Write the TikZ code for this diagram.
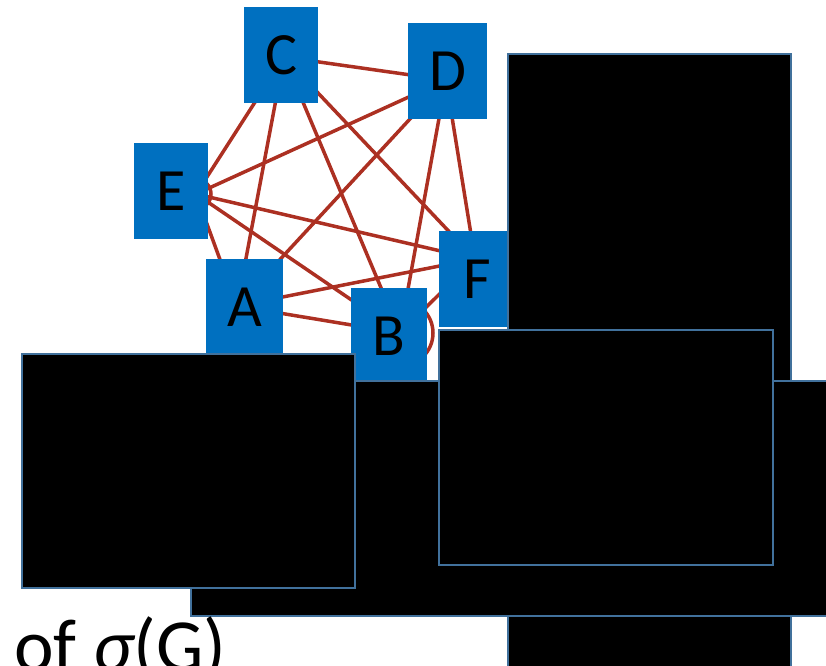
\documentclass[tikz,border=0pt]{standalone}
\usepackage{fontspec}
\setmainfont{Carlito}
\definecolor{nodeblue}{HTML}{0070C0}
\definecolor{edgered}{RGB}{172,48,34}
\definecolor{rimblue}{HTML}{41719C}
\begin{document}
\begin{tikzpicture}[x=1pt,y=-1pt,
  vbox/.style={fill=nodeblue, inner sep=0pt, minimum height=96pt, text=black,
    font=\fontsize{60}{60}\selectfont},
  gedge/.style={draw=edgered, line width=3.5pt},
  vring/.style={draw=edgered, line width=3.5pt},
  panel/.style={fill=black, draw=rimblue, line width=2.2pt}]
\useasboundingbox (0,0) rectangle (826,665);
\clip (0,0) rectangle (826,665);
% graph vertices (under the blue labels)
\coordinate (vC) at (284,57);
\coordinate (vD) at (446,80);
\coordinate (vE) at (196,194);
\coordinate (vF) at (475,259);
\coordinate (vA) at (237,306);
\coordinate (vB) at (400,333);
% complete graph K6
\foreach \p/\q in {vC/vD,vC/vE,vC/vA,vC/vB,vC/vF,vD/vE,vD/vA,vD/vB,vD/vF,vE/vF,vE/vB,vE/vA,vA/vF,vA/vB,vB/vF}
  \draw[gedge] (\p) -- (\q);
\draw[vring] (vE) circle[radius=15pt];
\draw[vring] (vB) circle[radius=33pt];
% labelled squares
\node[vbox, minimum width=74pt] (C) at (281,55) {C};
\node[vbox, minimum width=79pt] (D) at (447.5,71) {D};
\node[vbox, minimum width=74pt] (E) at (171,191) {E};
\node[vbox, minimum width=76pt] (F) at (477,279) {F};
\node[vbox, minimum width=77pt] (A) at (244.5,307) {A};
\node[vbox, minimum width=76pt] (B) at (389,336) {B};
% black panels
\path[panel] (508,54) rectangle (791,690);
\path[panel] (191,381) rectangle (850,616);
\path[panel] (22,354) rectangle (355,588);
\path[panel] (439,330) rectangle (773,565);
% caption
\node[anchor=base west, inner sep=0pt, font=\fontsize{75}{75}\selectfont] (cap) at (14,671) {of {\itshape σ}(G)};
\end{tikzpicture}
\end{document}
